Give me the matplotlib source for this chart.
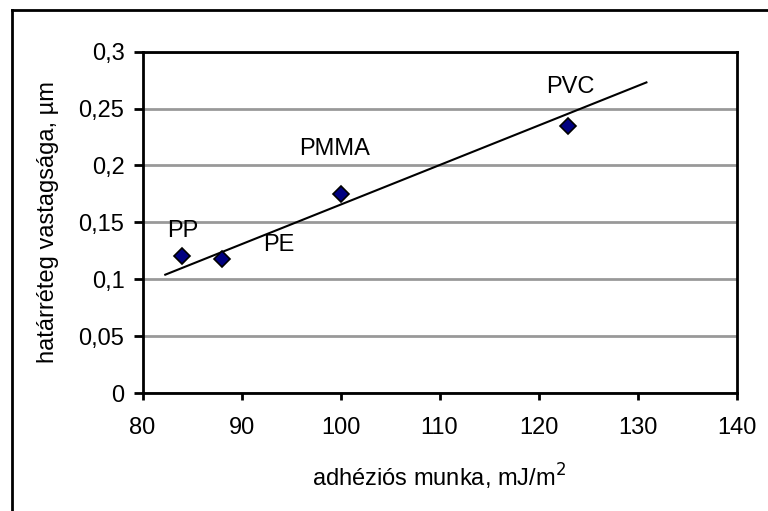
import matplotlib
matplotlib.use("Agg")
import matplotlib.pyplot as plt
from matplotlib.lines import Line2D
from matplotlib.ticker import FuncFormatter

plt.rcParams['font.family'] = ['Liberation Sans', 'DejaVu Sans']

# data
materials = ["PP", "PE", "PMMA", "PVC"]
work_adhesion = [84, 88, 100, 123]          # mJ/m^2
layer_thickness = [0.120, 0.118, 0.175, 0.235]  # µm
trend_x = [82.3, 130.9]
trend_y = [0.104, 0.273]
x_ticks = [80, 90, 100, 110, 120, 130, 140]
y_ticks = [0, 0.05, 0.1, 0.15, 0.2, 0.25, 0.3]

W, H = 768, 511
FS = 17
fig = plt.figure(figsize=(W / 100, H / 100), dpi=100)
ax = fig.add_axes([142.5 / W, 1 - 393 / H, (736.5 - 142.5) / W, (393 - 51.7) / H])

ax.set_xlim(80, 140)
ax.set_ylim(0, 0.3)
ax.set_xticks(x_ticks)
ax.set_yticks(y_ticks)
ax.yaxis.set_major_formatter(FuncFormatter(lambda v, p: ('%g' % v).replace('.', ',')))
ax.grid(axis='y', color='#999999', linewidth=2)
ax.set_axisbelow(True)
for s in ax.spines.values():
    s.set_color('black')
    s.set_linewidth(2)
ax.tick_params(axis='both', direction='out', width=2, labelsize=FS, colors='black')
ax.tick_params(axis='x', length=5, pad=12)
ax.tick_params(axis='y', length=6.5, pad=6.5)

ax.plot(trend_x, trend_y, color='black', linewidth=1.5, zorder=3)
ax.plot(work_adhesion, layer_thickness, linestyle='none', marker='D', markersize=8,
        markerfacecolor='#000080', markeredgecolor='black', markeredgewidth=1.2, zorder=4)

offsets = {"PP": (0.1, 0.0225), "PE": (5.8, 0.0118), "PMMA": (-0.6, 0.0393), "PVC": (0.2, 0.0337)}
for name, xv, yv in zip(materials, work_adhesion, layer_thickness):
    dx, dy = offsets[name]
    ax.text(xv + dx, yv + dy, name, ha='center', va='center', fontsize=FS)

ax.set_xlabel('adhéziós munka, mJ/m$^2$', fontsize=FS, labelpad=17)
ax.set_ylabel('határréteg vastagsága, µm', fontsize=FS, labelpad=14)

# partial outer frame (left and top edges)
fig.add_artist(Line2D([12 / W, 12 / W], [0, 1 - 10 / H], transform=fig.transFigure,
                      color='black', linewidth=2))
fig.add_artist(Line2D([12 / W, 1], [1 - 10 / H, 1 - 10 / H], transform=fig.transFigure,
                      color='black', linewidth=2))

fig.savefig('out.png', dpi=100)
